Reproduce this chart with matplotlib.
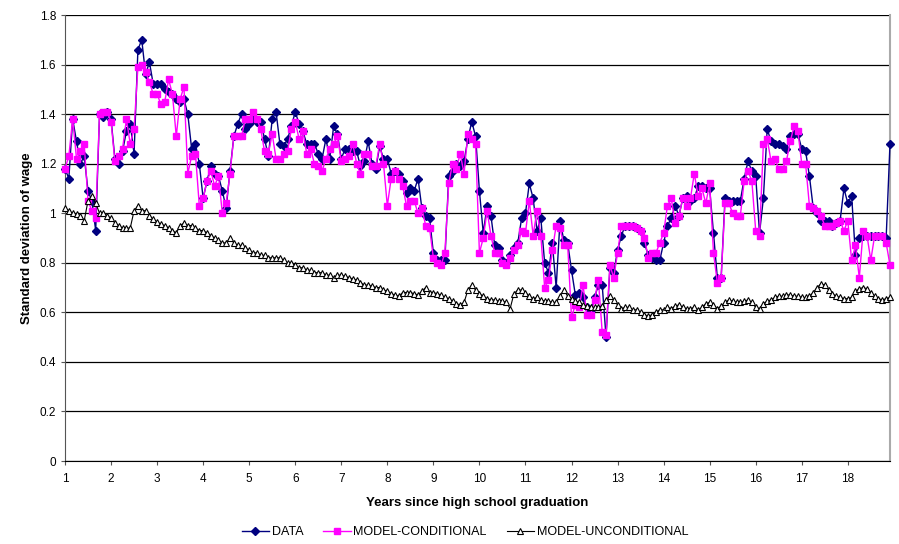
import numpy as np
import matplotlib
matplotlib.use("Agg")
import matplotlib.pyplot as plt

plt.rcParams["font.family"] = ["Liberation Sans", "DejaVu Sans"]

# monthly observations, 12 per year since graduation (years 1..18)
year_labels = [str(y) for y in range(1, 19)]

data = [
    1.18, 1.14, 1.38, 1.29, 1.20, 1.23, 1.09, 1.05, 0.93, 1.40, 1.39, 1.41,
    1.38, 1.22, 1.20, 1.25, 1.33, 1.36, 1.24, 1.66, 1.70, 1.56, 1.61, 1.52,
    1.52, 1.52, 1.50, 1.49, 1.48, 1.46, 1.45, 1.46, 1.40, 1.26, 1.28, 1.20,
    1.06, 1.13, 1.19, 1.16, 1.15, 1.09, 1.02, 1.17, 1.31, 1.36, 1.40, 1.34,
    1.36, 1.38, 1.37, 1.37, 1.30, 1.23, 1.38, 1.41, 1.28, 1.27, 1.30, 1.35,
    1.41, 1.36, 1.33, 1.28, 1.28, 1.28, 1.24, 1.22, 1.30, 1.22, 1.35, 1.32,
    1.22, 1.26, 1.26, 1.25, 1.25, 1.19, 1.21, 1.29, 1.20, 1.18, 1.27, 1.22,
    1.22, 1.16, 1.17, 1.16, 1.13, 1.08, 1.10, 1.09, 1.14, 1.02, 0.99, 0.98,
    0.84, 0.81, 0.81, 0.81, 1.15, 1.17, 1.20, 1.19, 1.21, 1.30, 1.37, 1.31,
    1.09, 0.92, 1.03, 0.99, 0.87, 0.86, 0.81, 0.80, 0.83, 0.86, 0.88, 0.98,
    1.00, 1.12, 1.06, 0.93, 0.98, 0.80, 0.76, 0.88, 0.70, 0.97, 0.89, 0.88,
    0.77, 0.67, 0.68, 0.66, 0.62, 0.61, 0.66, 0.71, 0.71, 0.50, 0.78, 0.76,
    0.85, 0.91, 0.95, 0.95, 0.95, 0.94, 0.93, 0.88, 0.83, 0.82, 0.81, 0.81,
    0.88, 0.95, 0.98, 1.03, 0.99, 1.06, 1.07, 1.05, 1.06, 1.11, 1.11, 1.10,
    1.10, 0.92, 0.74, 0.74, 1.06, 1.05, 1.05, 1.05, 1.05, 1.14, 1.21, 1.17,
    1.15, 0.92, 1.06, 1.34, 1.29, 1.28, 1.28, 1.27, 1.26, 1.31, 1.32, 1.32,
    1.26, 1.25, 1.15, 1.02, 1.00, 0.97, 0.97, 0.97, 0.95, 0.96, 0.97, 1.10,
    1.04, 1.07, 0.83, 0.90, 0.91, 0.91, 0.91, 0.91, 0.91, 0.91, 0.90, 1.28,
]

model_conditional = [
    1.18, 1.23, 1.38, 1.22, 1.25, 1.28, 1.05, 1.01, 0.98, 1.40, 1.41, 1.41,
    1.37, 1.21, 1.23, 1.26, 1.38, 1.28, 1.34, 1.59, 1.60, 1.57, 1.53, 1.48,
    1.48, 1.44, 1.45, 1.54, 1.48, 1.31, 1.46, 1.51, 1.16, 1.23, 1.24, 1.03,
    1.06, 1.13, 1.17, 1.11, 1.15, 1.00, 1.04, 1.16, 1.31, 1.31, 1.31, 1.38,
    1.38, 1.41, 1.38, 1.34, 1.25, 1.24, 1.32, 1.22, 1.22, 1.24, 1.25, 1.34,
    1.37, 1.30, 1.33, 1.24, 1.26, 1.20, 1.19, 1.17, 1.22, 1.26, 1.28, 1.31,
    1.21, 1.22, 1.23, 1.28, 1.20, 1.16, 1.24, 1.24, 1.19, 1.19, 1.28, 1.20,
    1.03, 1.14, 1.17, 1.14, 1.11, 1.03, 1.05, 1.05, 1.00, 1.02, 0.95, 0.94,
    0.82, 0.80, 0.79, 0.84, 1.12, 1.20, 1.18, 1.24, 1.16, 1.32, 1.30, 1.28,
    0.84, 0.90, 1.01, 0.91, 0.84, 0.84, 0.80, 0.79, 0.82, 0.85, 0.87, 0.93,
    0.92, 1.05, 0.91, 1.01, 0.91, 0.70, 0.73, 0.85, 0.95, 0.94, 0.87, 0.87,
    0.58, 0.63, 0.62, 0.71, 0.59, 0.59, 0.65, 0.73, 0.52, 0.51, 0.79, 0.74,
    0.84, 0.95, 0.95, 0.95, 0.95, 0.94, 0.93, 0.90, 0.82, 0.84, 0.84, 0.88,
    0.92, 1.03, 1.06, 0.96, 0.99, 1.06, 1.03, 1.06, 1.16, 1.07, 1.10, 1.04,
    1.12, 0.84, 0.72, 0.74, 1.04, 1.04, 1.00, 0.99, 0.99, 1.13, 1.17, 1.13,
    0.93, 0.91, 1.28, 1.30, 1.21, 1.22, 1.18, 1.18, 1.21, 1.29, 1.35, 1.33,
    1.20, 1.20, 1.03, 1.02, 1.01, 0.99, 0.95, 0.95, 0.95, 0.96, 0.97, 0.93,
    0.97, 0.81, 0.87, 0.74, 0.93, 0.91, 0.81, 0.91, 0.91, 0.91, 0.88, 0.79,
]

model_unconditional = [
    1.02, 1.01, 1.00, 0.995, 0.99, 0.97, 1.05, 1.07, 1.04, 1.00, 1.00, 0.99,
    0.98, 0.96, 0.95, 0.94, 0.94, 0.94, 1.01, 1.03, 1.01, 1.01, 0.99, 0.975,
    0.965, 0.955, 0.95, 0.94, 0.93, 0.92, 0.95, 0.96, 0.95, 0.95, 0.94, 0.93,
    0.93, 0.92, 0.91, 0.90, 0.89, 0.88, 0.88, 0.90, 0.88, 0.87, 0.87, 0.86,
    0.85, 0.84, 0.84, 0.83, 0.83, 0.82, 0.82, 0.82, 0.82, 0.81, 0.80, 0.80,
    0.79, 0.78, 0.78, 0.77, 0.77, 0.76, 0.76, 0.76, 0.75, 0.75, 0.74, 0.75,
    0.75, 0.745, 0.74, 0.735, 0.73, 0.72, 0.71, 0.71, 0.705, 0.70, 0.70, 0.69,
    0.685, 0.675, 0.67, 0.665, 0.68, 0.68, 0.68, 0.675, 0.67, 0.685, 0.70, 0.68,
    0.68, 0.675, 0.67, 0.66, 0.655, 0.645, 0.635, 0.63, 0.64, 0.69, 0.71, 0.69,
    0.675, 0.665, 0.655, 0.65, 0.65, 0.645, 0.645, 0.64, 0.615, 0.675, 0.69, 0.69,
    0.68, 0.665, 0.655, 0.66, 0.65, 0.645, 0.645, 0.64, 0.64, 0.665, 0.69, 0.665,
    0.655, 0.645, 0.64, 0.63, 0.625, 0.62, 0.62, 0.62, 0.625, 0.65, 0.665, 0.65,
    0.63, 0.615, 0.62, 0.62, 0.61, 0.61, 0.60, 0.59, 0.585, 0.59, 0.60, 0.61,
    0.61, 0.62, 0.615, 0.625, 0.63, 0.62, 0.615, 0.615, 0.62, 0.61, 0.62, 0.635,
    0.64, 0.63, 0.615, 0.625, 0.64, 0.65, 0.645, 0.64, 0.64, 0.645, 0.65, 0.64,
    0.62, 0.615, 0.635, 0.645, 0.65, 0.66, 0.665, 0.665, 0.67, 0.67, 0.665, 0.665,
    0.66, 0.66, 0.665, 0.68, 0.70, 0.715, 0.71, 0.69, 0.675, 0.665, 0.66, 0.655,
    0.655, 0.66, 0.685, 0.695, 0.70, 0.695, 0.68, 0.665, 0.655, 0.65, 0.655, 0.66,
]

x = np.arange(len(data))

fig = plt.figure(figsize=(8.99, 5.44), dpi=100)
ax = fig.add_axes([65 / 899, 1 - 461 / 544, 825 / 899, 446 / 544])

ax.plot(x, data, color="#000080", linewidth=1, marker="D",
        markersize=4, markerfacecolor="#000080", markeredgecolor="#000080",
        label="DATA", zorder=3, clip_on=False)
ax.plot(x, model_conditional, color="#FF00FF", linewidth=1, marker="s",
        markersize=5, markerfacecolor="#FF00FF", markeredgecolor="#FF00FF",
        label="MODEL-CONDITIONAL", zorder=4, clip_on=False)
ax.plot(x, model_unconditional, color="black", linewidth=0.8, marker="^",
        markersize=5, markerfacecolor="white", markeredgecolor="black",
        markeredgewidth=0.8, label="MODEL-UNCONDITIONAL", zorder=5,
        clip_on=False)

ax.set_xlim(0, len(data) - 1)
ax.set_ylim(0, 1.8)

ax.set_xticks(np.arange(0, len(data), 12))
ax.set_xticklabels(year_labels)
yt = np.arange(0, 1.81, 0.2)
ax.set_yticks(yt)
ax.set_yticklabels(["0", "0.2", "0.4", "0.6", "0.8", "1", "1.2", "1.4", "1.6", "1.8"])

ax.grid(axis="y", color="black", linewidth=0.9)
ax.set_axisbelow(True)
ax.tick_params(axis="both", labelsize=8.5, length=3, color="#555555")
ax.tick_params(axis="x", pad=6)

ax.spines["top"].set_visible(False)
ax.spines["left"].set_color("#555555")
ax.spines["bottom"].set_color("black")
ax.spines["right"].set_color("#aaaaaa")
ax.spines["right"].set_linewidth(1.5)

ax.set_xlabel("Years since high school graduation", fontsize=9.5,
              fontweight="bold", labelpad=8)
ax.set_ylabel("Standard deviation of wage", fontsize=9.5,
              fontweight="bold", labelpad=5)

fig.legend(loc="center", bbox_to_anchor=(0.517, 0.022), ncol=3, frameon=False,
           fontsize=9, handlelength=2.2, handletextpad=0.2, columnspacing=1.6)

fig.savefig("out.png", dpi=100)
plt.close(fig)
